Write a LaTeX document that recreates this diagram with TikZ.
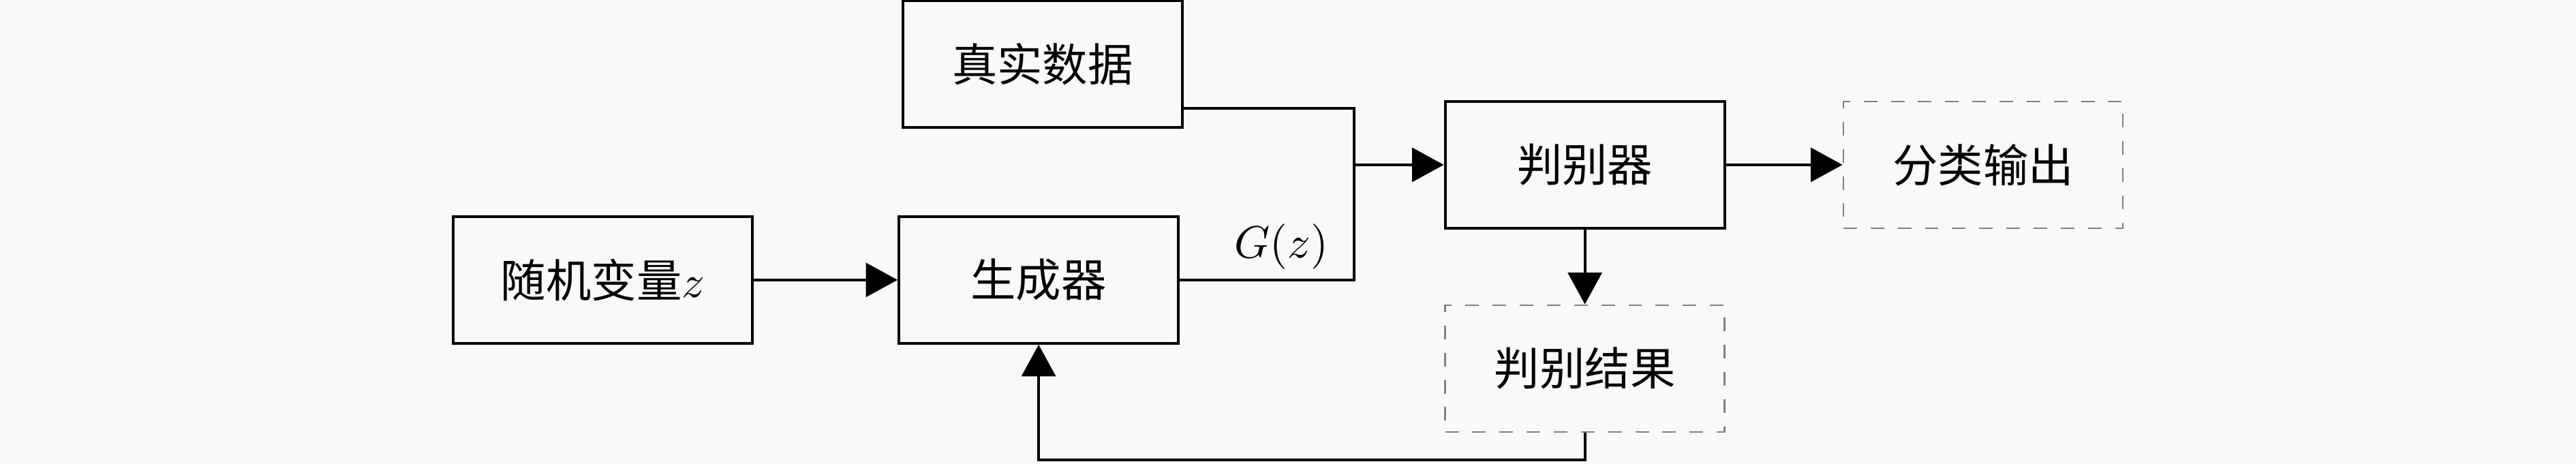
\documentclass[tikz,border=0pt]{standalone}
\usepackage{fontspec}
\newfontfamily\cjk{Noto Sans CJK SC}
\usetikzlibrary{arrows.meta}

\begin{document}
\begin{tikzpicture}[font=\cjk,
  >={Triangle[length=7pt,width=7.5pt]},
  blk/.style={draw, semithick, minimum width=2.17cm, minimum height=0.984cm},
  dblk/.style={draw=gray, dashed, minimum width=2.17cm, minimum height=0.984cm}]

\fill[black!2.5] (0,0) rectangle (20,3.603);
\useasboundingbox (0,0) rectangle (20,3.603);

\node[blk, minimum width=2.32cm] (rand) at (4.68,1.429) {随机变量$z$};
\node[blk] (gen) at (8.064,1.429) {生成器};
\node[blk] (real) at (8.095,3.106) {真实数据};
\node[blk] (disc) at (12.305,2.323) {判别器};
\node[dblk] (out) at (15.397,2.323) {分类输出};
\node[dblk] (res) at (12.305,0.741) {判别结果};
\node (gz) at (9.95,1.69) {$G(z)$};

\coordinate (r) at (9.18,2.762);
\coordinate (jn) at (10.513,2.323);
\coordinate (fb) at (12.305,0.032);

\draw[semithick, ->] (rand) -- (gen);
\draw[semithick] (r) -| (jn) |- (gen.east);
\draw[semithick, ->] (jn) -- (disc.west);
\draw[semithick, ->] (disc) -- (out);
\draw[semithick, ->] (disc) -- (res);
\draw[semithick, ->] (res.south) -- (fb) -| (gen.south);

\end{tikzpicture}
\end{document}
